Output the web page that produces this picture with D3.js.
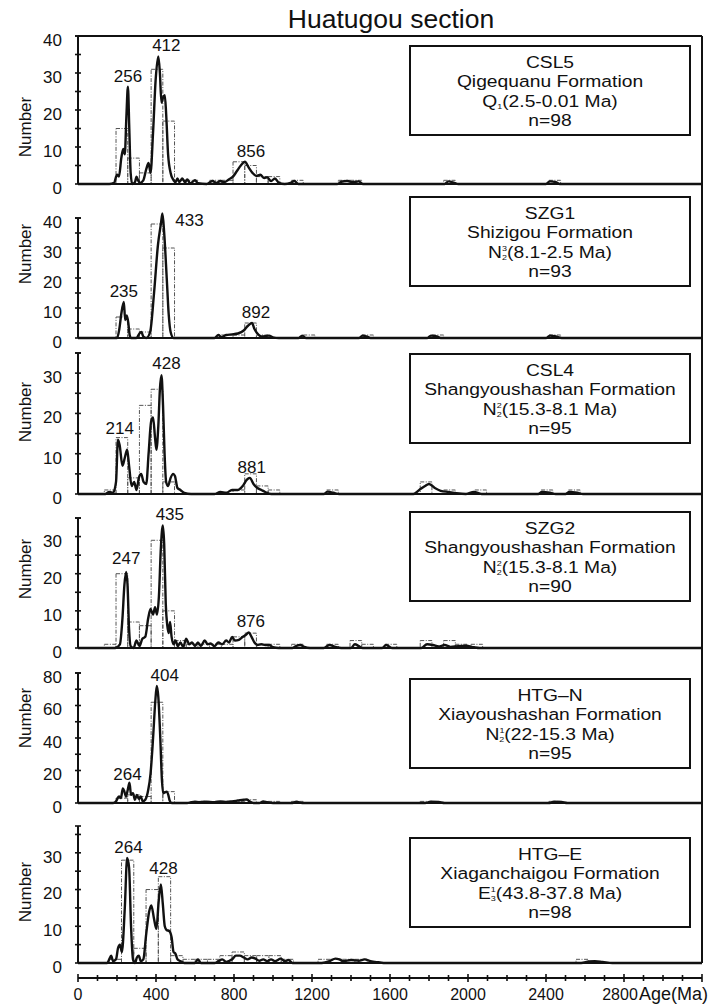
<!DOCTYPE html>
<html><head><meta charset="utf-8">
<script src="https://cdn.jsdelivr.net/npm/d3@7/dist/d3.min.js"></script>
<style>
html,body{margin:0;padding:0;background:#fff;}
svg text{font-family:"Liberation Sans",Arial,Helvetica,sans-serif;fill:#111;}
</style></head><body>
<svg id="chart" width="724" height="1005"></svg>
<script>
// ================= DATA =================
const titleText = "Huatugou section";
const ageTickLabels = [0, 400, 800, 1200, 1600, 2000, 2400, 2800];
const sampleNames = ["CSL5", "SZG1", "CSL4", "SZG2", "HTG\u2013N", "HTG\u2013E"];
const formationNames = ["Qigequanu Formation", "Shizigou Formation", "Shangyoushashan Formation",
  "Shangyoushashan Formation", "Xiayoushashan Formation", "Xiaganchaigou Formation"];
const unitBase = ["Q", "N", "N", "N", "N", "E"];
const unitSub = ["1", "2", "2", "2", "2", "3"];
const unitSup = ["", "3", "2", "2", "1", "1"];
const ageRanges = ["(2.5-0.01 Ma)", "(8.1-2.5 Ma)", "(15.3-8.1 Ma)", "(15.3-8.1 Ma)", "(22-15.3 Ma)", "(43.8-37.8 Ma)"];
const nValues = [98, 93, 95, 90, 95, 98];
const peakAges = [[256, 412, 856], [235, 433, 892], [214, 428, 881], [247, 435, 876], [264, 404], [264, 428]];
const binWidths = [60, 60, 60, 60, 60, 63];

// histogram bins: [bin start age (Ma), count]
const csl5Bins = [[195,15],[255,7],[315,3],[375,31],[435,17],[495,1],[555,1],[675,1],[735,1],[795,6],[855,5],[915,2],[975,2],[1095,1],[1335,1],[1395,1],[1875,1],[2415,1]];
const szg1Bins = [[195,7],[255,3],[315,2],[375,38],[435,30],[735,1],[795,1],[855,5],[915,1],[1155,1],[1455,1],[1815,1],[2415,1]];
const csl4Bins = [[135,1],[195,14],[255,4],[315,22],[375,26],[435,3],[795,1],[855,5],[915,2],[975,1],[1275,1],[1755,3],[1875,1],[2035,1],[2375,1],[2515,1]];
const szg2Bins = [[135,1],[195,20],[255,7],[315,6],[375,29],[435,10],[495,2],[555,1],[615,1],[675,1],[735,1],[795,3],[855,4],[915,1],[975,1],[1095,1],[1275,1],[1395,2],[1455,1],[1575,1],[1755,2],[1875,2],[1935,1],[2015,1]];
const htgnBins = [[195,3],[255,5],[315,4],[375,62],[435,7],[615,1],[735,1],[795,1],[855,2],[975,1],[1095,1],[1755,1],[2415,1]];
const htgeBins = [[160,1],[223,28],[286,4],[349,20],[412,23.5],[475,2],[538,1],[601,1],[664,1],[727,2],[790,3],[853,2],[916,2],[979,2],[1042,1],[1231,1],[1294,1],[1357,1],[1420,1],[2554,1]];

// probability density curves: [age (Ma), value]
const csl5Curve = [[0,0],[160,0],[185,0.3],[200,2.5],[210,2],[222,7],[232,9.5],[240,8],[248,18],[256,26.3],[263,15],[270,3],[278,0],[292,0.5],[300,2],[308,1],[318,0.3],[335,1],[350,4],[362,5.7],[372,3],[385,14],[398,28],[412,34.5],[420,30],[428,22],[437,23.5],[445,24],[452,19],[462,8],[475,3],[490,1],[500,0.5],[510,1.5],[520,0.5],[535,1.5],[548,0.5],[560,1.2],[575,0.2],[600,1],[615,0.2],[660,0],[690,0.8],[710,0.3],[730,0.8],[750,0.5],[775,1.3],[795,2],[815,3.5],[835,5],[856,6],[875,4.5],[895,3],[915,2.2],[935,2.5],[955,1.6],[970,1.8],[990,0.8],[1010,1.5],[1030,0.3],[1060,0],[1090,0.3],[1110,0.8],[1130,0],[1330,0],[1350,0.6],[1380,0.8],[1410,0.5],[1440,0.7],[1460,0],[1880,0],[1900,0.7],[1930,0.3],[1950,0],[2400,0],[2420,0.7],[2450,0.5],[2470,0],[3200,0]];
const szg1Curve = [[0,0],[200,0],[212,3],[222,8],[235,12],[242,6],[250,7.5],[258,5],[265,1],[272,0],[300,0],[315,1.5],[325,2],[335,0.5],[350,0],[370,2],[390,15],[410,31],[425,38],[433,41.5],[442,35],[455,20],[465,8],[475,2],[490,0],[700,0],[720,1],[735,0.3],[760,1],[790,1.2],[820,1.5],[850,2.5],[870,4],[892,5],[905,3],[920,1.5],[940,0.5],[960,0.6],[980,0.8],[1000,0.2],[1030,0],[1130,0],[1150,0.8],[1170,0],[1440,0],[1460,0.8],[1480,0.5],[1500,0],[1790,0],[1810,0.8],[1840,0.5],[1860,0],[2400,0],[2420,0.8],[2450,0.5],[2480,0],[3200,0]];
const csl4Curve = [[0,0],[140,0],[160,0.5],[180,0.3],[195,3],[205,13.5],[214,12],[228,7],[240,9],[252,11],[262,7],[275,2],[288,3],[300,1],[312,4],[324,5],[336,3],[350,2.5],[362,10],[375,18],[385,19],[395,14],[402,11],[412,17],[420,26],[428,29.5],[436,22],[444,10],[452,3],[462,2],[475,4],[488,5],[497,4.5],[510,1.5],[525,1],[545,0.3],[580,0],[700,0],[730,0.5],[760,0.3],[790,1],[820,1],[845,2],[865,3.5],[881,4],[900,2.5],[920,1.5],[940,1],[960,0.5],[990,0],[1260,0],[1280,0.6],[1310,0.3],[1340,0],[1720,0],[1750,1],[1780,2],[1800,2.5],[1830,1.5],[1860,0.8],[1900,0.5],[1940,0.2],[1990,0],[2030,0.5],[2070,0],[2360,0],[2380,0.5],[2420,0.3],[2450,0],[2500,0],[2520,0.5],[2560,0.3],[2590,0],[3200,0]];
const szg2Curve = [[0,0],[190,0],[215,1],[228,8],[238,17],[247,20.5],[254,17],[262,5],[270,0.5],[285,0],[300,2],[315,0.5],[330,2.5],[345,3],[360,8],[372,10.5],[385,9],[395,11],[405,9],[415,14],[425,27],[435,33],[442,28],[450,12],[458,6],[465,4],[472,7],[480,3],[490,1],[500,2],[512,0.5],[525,1.5],[540,0.3],[555,2.5],[570,1],[585,1.5],[600,0.5],[615,1.5],[630,0.5],[650,2],[665,1],[680,1.2],[700,0.5],[720,1.5],[740,1],[760,2],[775,1.5],[790,3],[805,2],[825,2.2],[845,3],[860,3.5],[876,4.2],[890,3],[905,1.5],[920,0.8],[940,1],[960,0.8],[980,0.8],[1000,0.2],[1030,0],[1100,0],[1120,0.6],[1140,0.8],[1160,0.3],[1190,0],[1260,0],[1290,0.8],[1320,0.3],[1350,0],[1400,0],[1420,1],[1440,0.5],[1460,0],[1560,0],[1580,0.8],[1610,0],[1760,0],[1790,1],[1820,0.8],[1850,0.4],[1880,0.8],[1910,0.3],[1950,0.5],[1990,0.6],[2030,0.2],[2060,0],[3200,0]];
const htgnCurve = [[0,0],[180,0],[195,1],[210,4],[220,3],[230,9],[238,7],[246,4],[255,8],[264,12.5],[272,5],[282,6],[292,2],[302,5],[312,2.5],[322,4],[332,1],[345,2],[360,8],[372,18],[385,40],[396,62],[404,72],[412,65],[422,40],[430,15],[437,6],[445,6.5],[455,7],[463,5],[470,1.5],[480,0],[560,0],[580,0.5],[600,0.8],[620,0.5],[650,0.8],[700,0.5],[730,1],[760,0.7],[790,1],[820,1.5],[850,2],[865,2.2],[880,1],[900,0],[930,0],[950,1],[970,0.5],[1000,0],[1100,0],[1120,0.8],[1150,0],[1780,0],[1810,0.8],[1850,0.6],[1880,0],[2420,0],[2440,0.8],[2480,0.6],[2510,0],[3200,0]];
const htgeCurve = [[0,0],[150,0],[160,1],[170,2],[180,0.5],[195,1],[205,4],[215,5],[225,3],[240,15],[252,28.6],[262,26],[272,10],[282,1],[292,0],[302,1.5],[312,2],[322,0.5],[335,1],[350,8],[365,14],[376,15.7],[390,12],[402,9.3],[414,17],[425,21.4],[435,16],[445,10],[454,9],[468,8.7],[480,7],[490,3],[500,2.5],[510,1],[525,0.5],[545,0],[600,0],[615,1],[630,0],[700,0],[720,0.5],[740,1],[760,0.3],[790,1],[810,2],[830,2],[850,1.5],[870,1],[890,1.5],[910,1.2],[930,0.6],[950,1],[970,0.5],[990,1],[1010,0.5],[1040,1.2],[1060,0.5],[1080,0.8],[1100,0],[1250,0],[1290,0.5],[1320,1.2],[1340,1],[1360,0.5],[1400,0.8],[1440,0.6],[1470,1],[1500,0.5],[1540,0.2],[1580,0],[2580,0],[2620,0.4],[2650,0.5],[2690,0.3],[2740,0],[3200,0]];

const allBins = [csl5Bins, szg1Bins, csl4Bins, szg2Bins, htgnBins, htgeBins];
const allCurves = [csl5Curve, szg1Curve, csl4Curve, szg2Curve, htgnCurve, htgeCurve];
const yMaxes = [40, 40, 35, 35, 80, 37.3];
const yMajorTicks = [[0,10,20,30,40],[0,10,20,30,40],[0,10,20,30],[0,10,20,30],[0,20,40,60,80],[0,10,20,30]];
const yMinorStep = [5, 5, 5, 5, 10, 5];

// ================= LAYOUT =================
const X0 = 78, X1 = 702;
const zeroY = [184, 338, 494, 648, 803, 963];
const topY  = [36, 218, 353, 518, 673, 826];
const boxTop = [46, 197, 354, 512, 679, 838];
const boxH = 89;
const boxX = 410, boxW = 280;
const numberLabelY = [127, 254, 412, 569, 718, 892];
const labelOffsets = [
  [[0,-5],[8,-5],[6,-5]],
  [[0,-5],[27,12],[4,-5]],
  [[0,-6],[5,-6],[2,-5]],
  [[0,-8],[7,-5],[2,-5]],
  [[-2,-3],[8,-5]],
  [[-1,-5],[2,-10]]
];

const svg = d3.select("#chart");
const x = d3.scaleLinear().domain([0, 3200]).range([X0, X1]);

svg.append("text").attr("x", 391).attr("y", 28).attr("text-anchor", "middle")
  .attr("font-size", 26.5).text(titleText);

for (let p = 0; p < 6; p++) {
  const y = d3.scaleLinear().domain([0, yMaxes[p]]).range([zeroY[p], topY[p]]);
  const g = svg.append("g");
  const bw = binWidths[p];

  g.selectAll("rect.bar").data(allBins[p]).join("rect")
    .attr("x", d => x(d[0])).attr("y", d => y(d[1]))
    .attr("width", d => x(d[0] + bw) - x(d[0]))
    .attr("height", d => y(0) - y(d[1]))
    .attr("fill", "none").attr("stroke", "#555").attr("stroke-width", 1)
    .attr("stroke-dasharray", "4,1.5,1,1.5");

  const line = d3.line().x(d => x(d[0])).y(d => y(d[1])).curve(d3.curveMonotoneX);
  g.append("path").datum(allCurves[p]).attr("d", line)
    .attr("fill", "none").attr("stroke", "#111").attr("stroke-width", 2.4)
    .attr("stroke-linejoin", "round");

  g.append("line").attr("x1", X0).attr("x2", X1).attr("y1", zeroY[p]).attr("y2", zeroY[p])
    .attr("stroke", "#111").attr("stroke-width", 2);

  g.append("line").attr("x1", X0).attr("x2", X0).attr("y1", zeroY[p]).attr("y2", topY[p])
    .attr("stroke", "#111").attr("stroke-width", 2);
  const minor = d3.range(0, yMaxes[p] + 0.01, yMinorStep[p]);
  g.selectAll("line.tk").data(minor).join("line")
    .attr("x1", X0 - 3).attr("x2", X0 + 3).attr("y1", d => y(d)).attr("y2", d => y(d))
    .attr("stroke", "#111").attr("stroke-width", 1.6);
  g.append("line").attr("x1", X0 - 3).attr("x2", X0 + 3).attr("y1", topY[p]).attr("y2", topY[p])
    .attr("stroke", "#111").attr("stroke-width", 1.6);
  g.selectAll("text.yl").data(yMajorTicks[p]).join("text")
    .attr("x", 62).attr("y", d => y(d) + 4).attr("dy", "0.35em")
    .attr("text-anchor", "end").attr("font-size", 17).text(d => d);

  g.append("text").attr("transform", `translate(31,${numberLabelY[p]}) rotate(-90)`)
    .attr("text-anchor", "middle").attr("font-size", 17).text("Number");

  peakAges[p].forEach((a, i) => {
    const pk = d3.max(allCurves[p].filter(d => Math.abs(d[0] - a) <= 12), d => d[1]);
    const off = labelOffsets[p][i];
    g.append("text").attr("x", x(a) + off[0]).attr("y", y(pk) + off[1])
      .attr("text-anchor", "middle").attr("font-size", 17).text(a);
  });

  // info box
  const bt = boxTop[p];
  g.append("rect").attr("x", boxX).attr("y", bt).attr("width", boxW).attr("height", boxH)
    .attr("fill", "#fff").attr("stroke", "#111").attr("stroke-width", 2);
  const cx = boxX + boxW / 2;
  const fs = 17.2, sx = 1.12, lh = 19.3;
  const addLine = (k) => g.append("text")
    .attr("transform", `translate(${cx},${bt + 22 + k * lh}) scale(${sx},1)`)
    .attr("text-anchor", "middle").attr("font-size", fs);
  addLine(0).text(sampleNames[p]);
  addLine(1).text(formationNames[p]);
  const t3 = addLine(2);
  t3.append("tspan").text(unitBase[p]);
  t3.append("tspan").attr("font-size", 8).attr("dy", 2).text(unitSub[p]);
  if (unitSup[p]) t3.append("tspan").attr("font-size", 8).attr("dx", -4.4).attr("dy", -9).text(unitSup[p]);
  t3.append("tspan").attr("dy", unitSup[p] ? 7 : -2).text(ageRanges[p]);
  addLine(3).text("n=" + nValues[p]);
}

svg.append("line").attr("x1", X0).attr("x2", X1).attr("y1", topY[0]).attr("y2", topY[0])
  .attr("stroke", "#111").attr("stroke-width", 2);
svg.append("line").attr("x1", X1).attr("x2", X1).attr("y1", topY[0]).attr("y2", zeroY[5])
  .attr("stroke", "#111").attr("stroke-width", 2);

const axisY = 978;
const ax = svg.append("g");
ax.append("line").attr("x1", X0).attr("x2", X1).attr("y1", axisY).attr("y2", axisY)
  .attr("stroke", "#111").attr("stroke-width", 2);
ax.selectAll("line.t").data(d3.range(0, 3201, 100)).join("line")
  .attr("x1", d => x(d)).attr("x2", d => x(d))
  .attr("y1", d => axisY - (d % 400 === 0 ? 4 : 3)).attr("y2", d => axisY + (d % 400 === 0 ? 4 : 3))
  .attr("stroke", "#111").attr("stroke-width", 1.6);
ax.selectAll("text.xl").data(ageTickLabels).join("text")
  .attr("x", d => x(d) - (d === 2800 ? 4 : 0)).attr("y", 1000)
  .attr("text-anchor", "middle").attr("font-size", 16).text(d => d);
ax.append("text").attr("x", 639).attr("y", 1000).attr("font-size", 18).text("Age(Ma)");
</script>
</body></html>
